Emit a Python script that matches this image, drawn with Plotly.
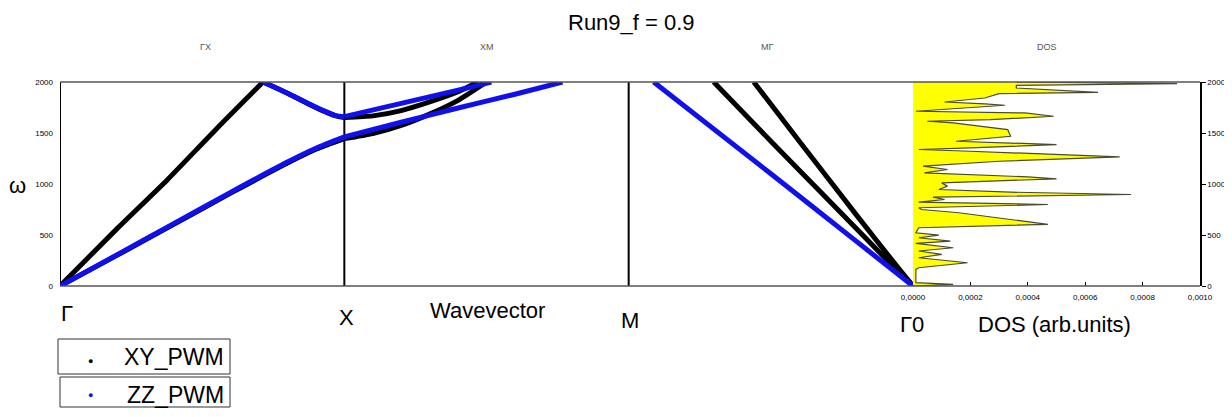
import plotly.graph_objects as go

# ---------------- data ----------------
# wavevector coordinate: Γ=0, X=1, M=2, Γ=3
k_xy_gx_up = [0, 0.2, 0.377, 0.55, 0.714]
w_xy_gx_up = [0, 560, 1040, 1540, 2000]
k_xy_gx_down = [0.714, 0.8, 0.87, 0.93, 0.97, 1.0]
w_xy_gx_down = [2000, 1890, 1790, 1712, 1668, 1652]
k_xy_gx_low = [0, 0.2, 0.4, 0.6, 0.8, 0.9, 1.0]
w_xy_gx_low = [0, 300, 605, 910, 1205, 1340, 1445]
k_xy_xm_up = [1.0, 1.1, 1.2, 1.3, 1.4, 1.47]
w_xy_xm_up = [1652, 1668, 1720, 1805, 1905, 2000]
k_xy_xm_low = [1.0, 1.1, 1.2, 1.3, 1.4, 1.5]
w_xy_xm_low = [1445, 1495, 1575, 1685, 1820, 2000]
k_xy_mg_a = [2.299, 2.5, 2.7, 2.9, 3.0]
w_xy_mg_a = [2000, 1420, 850, 280, 0]
k_xy_mg_b = [2.44, 2.6, 2.8, 2.95, 3.0]
w_xy_mg_b = [2000, 1420, 700, 170, 0]

k_zz_gx_low = [0, 0.2, 0.4, 0.6, 0.8, 0.9, 1.0]
w_zz_gx_low = [0, 305, 612, 918, 1215, 1350, 1462]
k_zz_gx_down = [0.714, 0.8, 0.87, 0.93, 0.97, 1.0]
w_zz_gx_down = [2000, 1890, 1795, 1715, 1670, 1660]
k_zz_xm_up = [1.0, 1.2, 1.4, 1.517]
w_zz_xm_up = [1660, 1790, 1920, 2000]
k_zz_xm_low = [1.0, 1.2, 1.4, 1.6, 1.767]
w_zz_xm_low = [1462, 1605, 1745, 1880, 2000]
k_zz_mg = [2.088, 2.5, 2.8, 3.0]
w_zz_mg = [2000, 1100, 440, 0]

dos_w = [0, 16, 33, 163, 179, 228, 277, 310, 343, 375, 418, 440, 473, 499, 522,
         571, 604, 718, 750, 767, 799, 822, 848, 871, 897, 920, 946, 979, 1011,
         1051, 1070, 1109, 1142, 1175, 1223, 1266, 1321, 1338, 1354, 1387, 1419,
         1468, 1533, 1599, 1615, 1631, 1664, 1697, 1713, 1746, 1772, 1785, 1804,
         1843, 1886, 1899, 1941, 1967, 1984, 2000]
dos_v = [0, 1.4e-4, 0.1e-4, 0.1e-4, 0.2e-4, 1.9e-4, 0.2e-4, 1.0e-4, 0.2e-4,
         1.4e-4, 0.1e-4, 1.3e-4, 0.2e-4, 0.9e-4, 0.1e-4, 0.2e-4, 4.7e-4, 1.6e-4,
         0.3e-4, 0.2e-4, 4.7e-4, 0.2e-4, 1.1e-4, 0.7e-4, 7.6e-4, 3.4e-4, 0.9e-4,
         1.2e-4, 1.0e-4, 5.0e-4, 4.0e-4, 0.4e-4, 1.2e-4, 0.35e-4, 3.0e-4, 7.2e-4,
         2.0e-4, 0.2e-4, 2.0e-4, 5.0e-4, 1.5e-4, 3.4e-4, 3.3e-4, 1.4e-4, 0.5e-4,
         2.7e-4, 4.9e-4, 3.9e-4, 0.1e-4, 2.0e-4, 3.2e-4, 2.5e-4, 1.1e-4, 2.5e-4,
         3.0e-4, 6.45e-4, 3.6e-4, 3.6e-4, 9.2e-4, 3.6e-4]

y_ticks = [0, 500, 1000, 1500, 2000]
dos_ticks = [0, 0.0002, 0.0004, 0.0006, 0.0008, 0.0010]
dos_tick_text = ["0,0000", "0,0002", "0,0004", "0,0006", "0,0008", "0,0010"]
panel_titles = ["ΓX", "XM", "MΓ", "DOS"]
sym_labels = ["Γ", "X", "M", "Γ0"]
title_text = "Run9_f = 0.9"

BLACK = "#000000"
BLUE = "#1010ee"
FONT = "Liberation Sans, Arial, sans-serif"

# page has an 8px body margin: the figure is drawn 8px right / down
OFF = 8
W, H = 1232 - 2 * OFF, 417 - 2 * OFF
PL, PR, PT, PB = 60, 1200, 82, 286   # plot area in screen pixels
PW, PH = PR - PL, PB - PT


def px(x):
    return (x - PL) / PW


def py(y):
    return (PB - y) / PH


fig = go.Figure()

fig.add_trace(go.Scatter(x=dos_v, y=dos_w, xaxis="x2", yaxis="y2", mode="lines",
                         fill="tozerox", fillcolor="#ffff00",
                         line=dict(color="#4a4a30", width=1.2), showlegend=False,
                         hoverinfo="skip"))


def band(k, w, color):
    fig.add_trace(go.Scatter(x=k, y=w, mode="lines",
                             line=dict(color=color, width=5, shape="spline", smoothing=0.6),
                             cliponaxis=False, showlegend=False, hoverinfo="skip"))


for k, w in [(k_xy_gx_up, w_xy_gx_up), (k_xy_gx_down, w_xy_gx_down),
             (k_xy_gx_low, w_xy_gx_low), (k_xy_xm_up, w_xy_xm_up),
             (k_xy_xm_low, w_xy_xm_low), (k_xy_mg_a, w_xy_mg_a), (k_xy_mg_b, w_xy_mg_b)]:
    band(k, w, BLACK)
for k, w in [(k_zz_gx_low, w_zz_gx_low), (k_zz_gx_down, w_zz_gx_down),
             (k_zz_xm_up, w_zz_xm_up), (k_zz_xm_low, w_zz_xm_low), (k_zz_mg, w_zz_mg)]:
    band(k, w, BLUE)

dom1 = px(913)

fig.update_layout(
    width=W, height=H,
    margin=dict(l=PL - OFF, r=W - (PR - OFF), t=PT - OFF, b=H - (PB - OFF), autoexpand=False),
    paper_bgcolor="white", plot_bgcolor="white",
    font=dict(family=FONT, color="#000000"),
    showlegend=False,
    xaxis=dict(domain=[0, dom1], range=[0, 3], showgrid=False, zeroline=False,
               showticklabels=False, ticks="", showline=False),
    yaxis=dict(range=[0, 2000], tickvals=y_ticks, showgrid=False, zeroline=False,
               showline=False, ticks="", tickfont=dict(size=8, family=FONT),
               ticklabelstandoff=6),
    xaxis2=dict(domain=[dom1, 1], range=[0, 0.001], anchor="y2", showgrid=False,
                zeroline=False, tickvals=dos_ticks, ticktext=dos_tick_text,
                tickfont=dict(size=8, family=FONT), ticks="inside", ticklen=4,
                tickcolor="#000", showline=False, ticklabelstandoff=5),
    yaxis2=dict(range=[0, 2000], anchor="x2", overlaying="y", side="right",
                tickvals=y_ticks, showgrid=False, zeroline=False, ticks="outside",
                ticklen=4, tickcolor="#000", tickfont=dict(size=8, family=FONT),
                showline=True, linecolor="#000", linewidth=1.5),
)

shapes = []
shapes.append(dict(type="line", xref="paper", yref="paper", x0=0, x1=1, y0=1, y1=1,
                   line=dict(color="#555555", width=1.5)))
shapes.append(dict(type="line", xref="paper", yref="paper", x0=0, x1=1, y0=0, y1=0,
                   line=dict(color="#555555", width=1.5)))
for xv, xr in [(0, "x"), (1, "x"), (2, "x"), (0, "x2")]:
    shapes.append(dict(type="line", xref=xr, yref="paper", x0=xv, x1=xv, y0=0, y1=1,
                       line=dict(color="#000000", width=2), layer="below"))
# legend boxes
shapes.append(dict(type="rect", xref="paper", yref="paper",
                   x0=px(58), x1=px(230), y0=py(339), y1=py(374),
                   line=dict(color="#333333", width=1)))
shapes.append(dict(type="rect", xref="paper", yref="paper",
                   x0=px(60), x1=px(230), y0=py(377), y1=py(407),
                   line=dict(color="#333333", width=1)))
fig.update_layout(shapes=shapes)

ann = []


def text(t, x, y, size, color="#000000", xanchor="center", yanchor="middle"):
    ann.append(dict(text=t, x=px(x), xref="paper", y=py(y), yref="paper",
                    xanchor=xanchor, yanchor=yanchor, showarrow=False,
                    font=dict(size=size, color=color, family=FONT)))


# title (box top kept inside the figure)
text(title_text, 631, OFF + 0.5, 22, yanchor="top")
for t, xp in zip(panel_titles, [205, 487, 767, 1047]):
    text(t, xp, 47, 9, "#555555")
for t, xp, yp in zip(sym_labels, [67, 346, 630, 912], [313, 317, 320, 324]):
    text(t, xp, yp, 22)
text("Wavevector", 487, 310, 22)
text("DOS (arb.units)", 1054, 324, 22)
text("ω", 17, 185, 22)
for name, col, yp, dy in [("XY_PWM", BLACK, 357, 4), ("ZZ_PWM", BLUE, 395, 0)]:
    text("●", 90, yp + dy, 9, col)
    text(name, 226, yp, 23, xanchor="right")
fig.update_layout(annotations=ann)

fig.write_html("out.html")
